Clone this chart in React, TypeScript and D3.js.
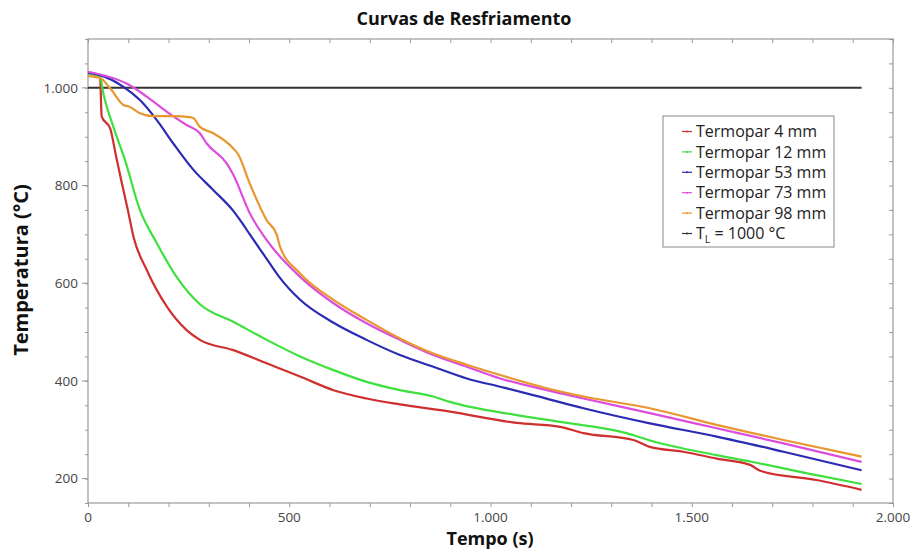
import React from "react";
import * as d3 from "d3";

// leituras dos termopares (tempo em s, temperatura em °C)
const t4 = [0, 30, 34, 55, 70, 84, 99, 113, 146, 196, 245, 278, 361, 444, 527, 610, 692, 775, 899, 1065, 1173, 1231, 1355, 1396, 1479, 1562, 1645, 1670, 1810, 1922];
const v4 = [1030, 1022, 941, 917, 859, 805, 750, 695, 627, 552, 504, 484, 463, 436, 409, 381, 364, 352, 337, 314, 306, 293, 279, 265, 255, 241, 228, 216, 197, 177];

const t12 = [0, 30, 38, 63, 92, 129, 171, 220, 278, 361, 444, 527, 610, 692, 775, 858, 899, 1065, 1173, 1338, 1396, 1562, 1645, 1810, 1922];
const v12 = [1030, 1022, 989, 920, 852, 750, 682, 613, 557, 521, 484, 450, 422, 398, 381, 368, 357, 330, 316, 293, 278, 248, 235, 207, 189];

const t53 = [0, 30, 88, 129, 171, 212, 262, 311, 361, 378, 402, 427, 452, 475, 527, 610, 692, 775, 858, 941, 1024, 1106, 1231, 1396, 1562, 1728, 1922];
const v53 = [1031, 1026, 1002, 975, 934, 886, 832, 791, 748, 729, 700, 670, 640, 613, 566, 519, 484, 453, 429, 405, 388, 371, 344, 313, 286, 255, 217];

const t73 = [0, 46, 96, 146, 196, 245, 278, 295, 345, 361, 402, 444, 527, 610, 692, 775, 858, 941, 1024, 1140, 1231, 1396, 1562, 1728, 1922];
const v73 = [1033, 1024, 1009, 982, 951, 924, 907, 886, 845, 822, 743, 688, 613, 559, 518, 484, 453, 429, 405, 381, 364, 334, 303, 272, 234];

const t98 = [0, 30, 55, 88, 104, 129, 162, 212, 253, 262, 278, 311, 361, 373, 402, 444, 469, 477, 527, 610, 692, 775, 858, 941, 1024, 1140, 1231, 1396, 1562, 1728, 1922];
const v98 = [1024, 1020, 999, 965, 961, 948, 942, 942, 940, 938, 920, 907, 876, 864, 804, 729, 699, 675, 620, 566, 525, 487, 456, 433, 412, 385, 368, 344, 310, 279, 245];

const tLine = [0, 1922];
const vLine = [1000, 1000];

const seriesNames = ["Termopar 4 mm", "Termopar 12 mm", "Termopar 53 mm", "Termopar 73 mm", "Termopar 98 mm", "TL"];
const seriesColors = ["#cf2f2f", "#3ee03e", "#2b2bb3", "#dd4ddd", "#e8972f", "#333333"];

const xTicks = [0, 500, 1000, 1500, 2000];
const yTicks = [200, 400, 600, 800, 1000];

const W = 915;
const H = 550;
const M = { left: 88, right: 22, top: 39, bottom: 47 };
const FONT = "'Open Sans', 'DejaVu Sans', sans-serif";

export default function App() {
  const ref = React.useRef<SVGSVGElement>(null);

  React.useEffect(() => {
    const svg = d3.select(ref.current);
    svg.selectAll("*").remove();

    const x = d3.scaleLinear().domain([0, 2000]).range([M.left, W - M.right]);
    const y = d3.scaleLinear().domain([150, 1100]).range([H - M.bottom, M.top]);

    const loc = d3.formatLocale({ decimal: ",", thousands: ".", grouping: [3], currency: ["", ""] });
    const fmt = loc.format(",d");

    const axisColor = "#999";

    // bottom axis
    const gx = svg.append("g").attr("transform", `translate(0,${H - M.bottom})`);
    gx.call(d3.axisBottom(x).tickValues(d3.range(0, 2001, 100)).tickSize(4).tickFormat(() => ""));
    gx.call((g) => g.select(".domain").remove());
    xTicks.forEach((v) => {
      gx.append("text")
        .attr("x", x(v))
        .attr("y", 19)
        .attr("text-anchor", "middle")
        .attr("font-family", FONT)
        .attr("font-size", 13.5)
        .attr("fill", "#444")
        .text(fmt(v));
    });

    // top axis (ticks inward)
    const gt = svg.append("g").attr("transform", `translate(0,${M.top})`);
    gt.call(d3.axisBottom(x).tickValues(d3.range(0, 2001, 100)).tickSize(4).tickFormat(() => ""));
    gt.call((g) => g.select(".domain").remove());

    // left axis
    const gy = svg.append("g").attr("transform", `translate(${M.left},0)`);
    gy.call(d3.axisLeft(y).tickValues(d3.range(150, 1101, 50)).tickSize(3).tickFormat(() => ""));
    gy.call((g) => g.select(".domain").remove());
    yTicks.forEach((v) => {
      gy.append("line").attr("x1", -6).attr("x2", 0).attr("y1", y(v)).attr("y2", y(v)).attr("stroke", axisColor);
      gy.append("text")
        .attr("x", -10)
        .attr("y", y(v))
        .attr("dy", "0.35em")
        .attr("text-anchor", "end")
        .attr("font-family", FONT)
        .attr("font-size", 13.5)
        .attr("fill", "#444")
        .text(fmt(v));
    });

    // right axis (ticks inward)
    const gr = svg.append("g").attr("transform", `translate(${W - M.right},0)`);
    gr.call(d3.axisLeft(y).tickValues(d3.range(150, 1101, 50)).tickSize(4).tickFormat(() => ""));
    gr.call((g) => g.select(".domain").remove());

    svg.selectAll(".tick line").attr("stroke", axisColor);

    // frame
    svg.append("rect")
      .attr("x", M.left)
      .attr("y", M.top)
      .attr("width", W - M.left - M.right)
      .attr("height", H - M.top - M.bottom)
      .attr("fill", "none")
      .attr("stroke", axisColor)
      .attr("stroke-width", 1.2);

    // curves
    const line = d3
      .line<[number, number]>()
      .x((d) => x(d[0]))
      .y((d) => y(d[1]))
      .curve(d3.curveMonotoneX);

    const all = [
      [t4, v4],
      [t12, v12],
      [t53, v53],
      [t73, v73],
      [t98, v98],
      [tLine, vLine],
    ];

    // reference line first, then curves on top
    const order = [5, 0, 1, 2, 3, 4];
    order.forEach((i) => {
      const [ts, vs] = all[i];
      const pts = ts.map((t, k) => [t, vs[k]] as [number, number]);
      svg.append("path")
        .attr("d", line(pts))
        .attr("fill", "none")
        .attr("stroke", seriesColors[i])
        .attr("stroke-width", i === 5 ? 2 : 2.2)
        .attr("stroke-linejoin", "round");
    });

    // legend
    const lg = svg.append("g").attr("transform", "translate(663,116)");
    lg.append("rect")
      .attr("width", 171)
      .attr("height", 131)
      .attr("fill", "white")
      .attr("stroke", "#888")
      .attr("stroke-width", 1);
    seriesNames.forEach((name, i) => {
      const yy = 15.5 + i * 20.4;
      lg.append("line")
        .attr("x1", 19)
        .attr("x2", 29)
        .attr("y1", yy)
        .attr("y2", yy)
        .attr("stroke", seriesColors[i])
        .attr("stroke-width", 1.2);
      lg.append("circle").attr("cx", 24).attr("cy", yy).attr("r", 1).attr("fill", seriesColors[i]);
      const tx = lg.append("text")
        .attr("x", 33)
        .attr("y", yy)
        .attr("dy", "0.35em")
        .attr("font-family", FONT)
        .attr("font-size", 16)
        .attr("fill", "#222");
      if (name === "TL") {
        tx.append("tspan").text("T");
        tx.append("tspan").attr("font-size", 10.5).attr("dy", "0.35em").text("L");
        tx.append("tspan").attr("dy", "-0.22em").text(" = 1000 °C");
      } else {
        tx.text(name);
      }
    });

    // titles
    svg.append("text")
      .attr("x", 464)
      .attr("y", 25)
      .attr("text-anchor", "middle")
      .attr("font-family", FONT)
      .attr("font-weight", "bold")
      .attr("font-size", 18)
      .attr("fill", "#111")
      .text("Curvas de Resfriamento");

    svg.append("text")
      .attr("x", 490)
      .attr("y", 545)
      .attr("text-anchor", "middle")
      .attr("font-family", FONT)
      .attr("font-weight", "bold")
      .attr("font-size", 18)
      .attr("fill", "#111")
      .text("Tempo (s)");

    svg.append("text")
      .attr("transform", "translate(28,270) rotate(-90)")
      .attr("text-anchor", "middle")
      .attr("font-family", FONT)
      .attr("font-weight", "bold")
      .attr("font-size", 20)
      .attr("fill", "#111")
      .text("Temperatura (°C)");
  }, []);

  return (
    <svg
      ref={ref}
      width={W}
      height={H}
      style={{ position: "absolute", left: 0, top: 0, background: "white" }}
    />
  );
}
